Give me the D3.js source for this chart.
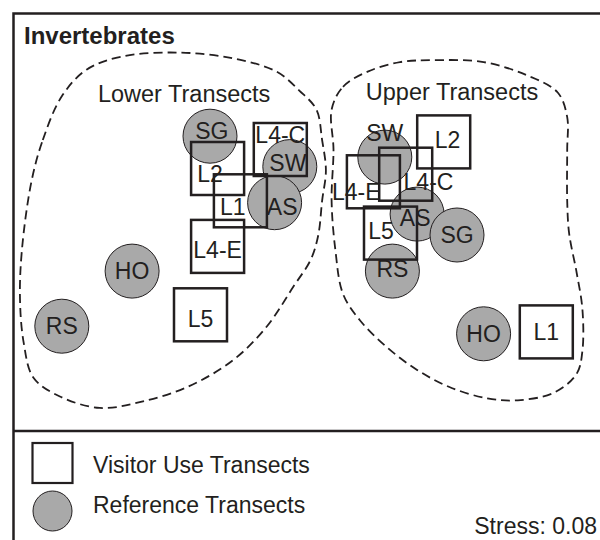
<!DOCTYPE html>
<html>
<head>
<meta charset="utf-8">
<script src="https://cdn.jsdelivr.net/npm/d3@7"></script>
<style>
  body { margin: 0; background: #fff; }
  text { font-family: Arial, "Liberation Sans", sans-serif; fill: #231f20; }
</style>
</head>
<body>
<div id="chart"></div>
<script>
// NMDS scores (axis units)
const visitorNames = ['L4-C', 'L2', 'L1', 'L4-E', 'L5', 'L2', 'L4-C', 'L4-E', 'L5', 'L1']
const visitorGroup = ['lower', 'lower', 'lower', 'lower', 'lower', 'upper', 'upper', 'upper', 'upper', 'upper']
const visitorX = [-0.13, -0.46, -0.34, -0.46, -0.55, 0.73, 0.53, 0.36, 0.45, 1.27]
const visitorY = [0.45, 0.35, 0.18, -0.06, -0.42, 0.49, 0.32, 0.28, 0.01, -0.51]
const visitorLabelX = [-0.13, -0.50, -0.38, -0.46, -0.55, 0.75, 0.65, 0.27, 0.40, 1.27]
const visitorLabelY = [0.53, 0.32, 0.15, -0.08, -0.44, 0.50, 0.28, 0.23, 0.02, -0.51]

const refNames = ['SG', 'SW', 'AS', 'HO', 'RS', 'SW', 'AS', 'SG', 'RS', 'HO']
const refGroup = ['lower', 'lower', 'lower', 'lower', 'lower', 'upper', 'upper', 'upper', 'upper', 'upper']
const refX = [-0.50, -0.08, -0.16, -0.91, -1.28, 0.42, 0.59, 0.80, 0.46, 0.94]
const refY = [0.52, 0.36, 0.17, -0.19, -0.48, 0.41, 0.11, 0.00, -0.19, -0.52]
const refLabelX = [-0.49, -0.09, -0.12, -0.91, -1.28, 0.42, 0.58, 0.80, 0.46, 0.94]
const refLabelY = [0.55, 0.38, 0.15, -0.19, -0.48, 0.54, 0.09, 0.00, -0.18, -0.52]

// hand drawn group outlines
const lowerHull = [[-1.44,0.28],[-1.38,0.50],[-1.28,0.73],[-1.15,0.87],[-0.96,0.94],[-0.66,0.96],[-0.38,0.93],[-0.15,0.86],[-0.03,0.76],[0.06,0.66],[0.09,0.50],[0.11,0.34],[0.09,0.18],[0.07,0.00],[0.03,-0.13],[-0.06,-0.27],[-0.20,-0.48],[-0.38,-0.66],[-0.62,-0.80],[-0.87,-0.88],[-1.08,-0.91],[-1.29,-0.85],[-1.43,-0.75],[-1.48,-0.57],[-1.50,-0.34],[-1.49,-0.08]]
const upperHull = [[0.14,0.66],[0.20,0.78],[0.33,0.86],[0.50,0.91],[0.67,0.92],[0.94,0.91],[1.17,0.84],[1.33,0.75],[1.38,0.62],[1.38,0.45],[1.38,0.18],[1.39,0.01],[1.43,-0.20],[1.46,-0.39],[1.46,-0.61],[1.43,-0.73],[1.31,-0.83],[1.12,-0.87],[0.96,-0.86],[0.76,-0.80],[0.59,-0.71],[0.43,-0.59],[0.29,-0.45],[0.20,-0.31],[0.16,-0.08],[0.14,0.18],[0.15,0.45]]

const groupLabels = ['Lower Transects', 'Upper Transects']
const groupLabelX = [-1.09, 0.32]
const groupLabelY = [0.70, 0.71]

const legendLabels = ['Visitor Use Transects', 'Reference Transects']
const stressValue = 0.08

function draw () {
    const dimensions = {
        width: 600,
        height: 540,
        divider: 431
    }

    const ink = '#231f20'
    const grey = '#a9a9a9'
    const boxSize = 53
    const dotR = 27

    const xScale = d3.scaleLinear().domain([-1.5, 1.5]).range([20, 590])
    const yScale = d3.scaleLinear().domain([-1, 1]).range([425, 45])

    const svg = d3.select('#chart')
        .append('svg')
        .attr('width', dimensions.width)
        .attr('height', dimensions.height)

    // frame
    svg.append('path')
        .attr('d', `M13.5,${dimensions.height} V13.5 H${dimensions.width}`)
        .attr('fill', 'none')
        .attr('stroke', ink)
        .attr('stroke-width', 2.5)
    svg.append('line')
        .attr('x1', 13.5).attr('x2', dimensions.width)
        .attr('y1', dimensions.divider).attr('y2', dimensions.divider)
        .attr('stroke', ink)
        .attr('stroke-width', 2.5)

    svg.append('text')
        .attr('x', 24).attr('y', 44)
        .style('font-size', '24px')
        .style('font-weight', 'bold')
        .text('Invertebrates')

    // group outlines
    const hullLine = d3.line()
        .x(d => xScale(d[0]))
        .y(d => yScale(d[1]))
        .curve(d3.curveCatmullRomClosed.alpha(0.5))

    svg.append('g').selectAll('path')
        .data([lowerHull, upperHull])
        .join('path')
        .attr('d', hullLine)
        .attr('fill', 'none')
        .attr('stroke', ink)
        .attr('stroke-width', 1.8)
        .attr('stroke-dasharray', '9,5')

    svg.append('g').selectAll('text')
        .data(groupLabels)
        .join('text')
        .attr('x', (d, i) => xScale(groupLabelX[i]))
        .attr('y', (d, i) => yScale(groupLabelY[i]))
        .style('font-size', '23.5px')
        .text(d => d)

    const refs = refNames.map((n, i) => ({ name: n, group: refGroup[i], x: refX[i], y: refY[i], lx: refLabelX[i], ly: refLabelY[i] }))
    const visitors = visitorNames.map((n, i) => ({ name: n, group: visitorGroup[i], x: visitorX[i], y: visitorY[i], lx: visitorLabelX[i], ly: visitorLabelY[i] }))

    svg.append('g').selectAll('circle')
        .data(refs)
        .join('circle')
        .attr('cx', d => xScale(d.x))
        .attr('cy', d => yScale(d.y))
        .attr('r', dotR)
        .attr('fill', grey)
        .attr('stroke', ink)
        .attr('stroke-width', 1)

    svg.append('g').selectAll('rect')
        .data(visitors)
        .join('rect')
        .attr('x', d => xScale(d.x) - boxSize / 2)
        .attr('y', d => yScale(d.y) - boxSize / 2)
        .attr('width', boxSize)
        .attr('height', boxSize)
        .attr('fill', 'none')
        .attr('stroke', ink)
        .attr('stroke-width', 2.5)

    svg.append('g').selectAll('text')
        .data(refs.concat(visitors))
        .join('text')
        .attr('x', d => xScale(d.lx))
        .attr('y', d => yScale(d.ly))
        .attr('dy', '0.36em')
        .attr('text-anchor', 'middle')
        .style('font-size', '23px')
        .text(d => d.name)

    // legend
    const legend = svg.append('g')
    legend.append('rect')
        .attr('x', 32.5).attr('y', 443)
        .attr('width', 40).attr('height', 40)
        .attr('fill', 'none')
        .attr('stroke', ink)
        .attr('stroke-width', 2.2)
    legend.append('ellipse')
        .attr('cx', 52.5).attr('cy', 511)
        .attr('rx', 19.5).attr('ry', 20)
        .attr('fill', grey)
        .attr('stroke', ink)
        .attr('stroke-width', 1)
    legend.selectAll('text')
        .data(legendLabels)
        .join('text')
        .attr('x', 93)
        .attr('y', (d, i) => 473 + i * 40)
        .style('font-size', '23px')
        .text(d => d)

    svg.append('text')
        .attr('x', 597).attr('y', 534)
        .attr('text-anchor', 'end')
        .style('font-size', '23px')
        .text(`Stress: ${stressValue.toFixed(2)}`)
}

draw()
</script>
</body>
</html>
